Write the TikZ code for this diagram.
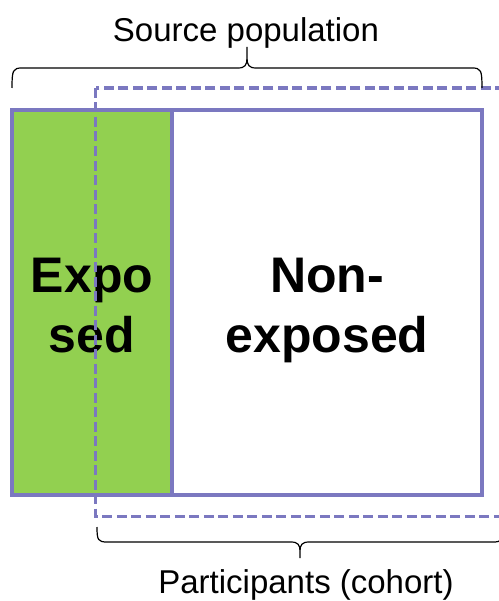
\documentclass[tikz,border=0pt]{standalone}
\usepackage{fontspec}
\setmainfont{Liberation Sans}
\definecolor{frame}{HTML}{7B78C0}
\definecolor{expgreen}{HTML}{92D050}
\tikzset{
  boxline/.style={draw=frame, line width=4bp},
  cohortline/.style={draw=frame, line width=3.4bp, dash pattern=on 10bp off 4.5bp},
  bracket/.style={draw=black, line width=1.2bp},
  biglabel/.style={font=\bfseries\fontsize{50bp}{60bp}\selectfont, align=center, inner sep=0pt},
  caption/.style={font=\fontsize{33bp}{40bp}\selectfont, inner sep=0pt, anchor=base}
}
\begin{document}
\begin{tikzpicture}[x=1bp, y=-1bp]
\useasboundingbox (0,0) rectangle (499,601);
\clip (0,0) rectangle (499,601);
% source population: exposed and non-exposed parts
\fill[expgreen] (12.3,110.3) rectangle (171.7,495);
\draw[boxline] (171.7,110.3) -- (171.7,495);
\draw[boxline] (12.3,110.3) rectangle (482,495);
\node[biglabel, anchor=base] (exp) at (92,352) {Expo\\sed};
\node[biglabel, anchor=base] (nonexp) at (327,352) {Non-\\exposed};
% participants recruited into the cohort
\draw[cohortline] (95.7,88) rectangle (503,516.3);
% brace over the source population
\draw[bracket] (12,88) .. controls (12,70) and (13,68) .. (22,68) -- (238,68)
  .. controls (245,68) and (247,65) .. (247,58) -- (247,47)
  (247,58) .. controls (247,65) and (249,68) .. (256,68) -- (472,68)
  .. controls (481,68) and (482,70) .. (482,88);
\node[caption] (src) at (246,42) {Source population};
% brace under the cohort
\draw[bracket] (97,527) .. controls (97,540) and (98,542) .. (107,542) -- (291,542)
  .. controls (298,542) and (300,545) .. (300,551) -- (300,558)
  (300,551) .. controls (300,545) and (302,542) .. (309,542) -- (493,542)
  .. controls (502,542) and (503,540) .. (503,527);
\node[caption] (part) at (306,593) {Participants (cohort)};
\end{tikzpicture}
\end{document}
